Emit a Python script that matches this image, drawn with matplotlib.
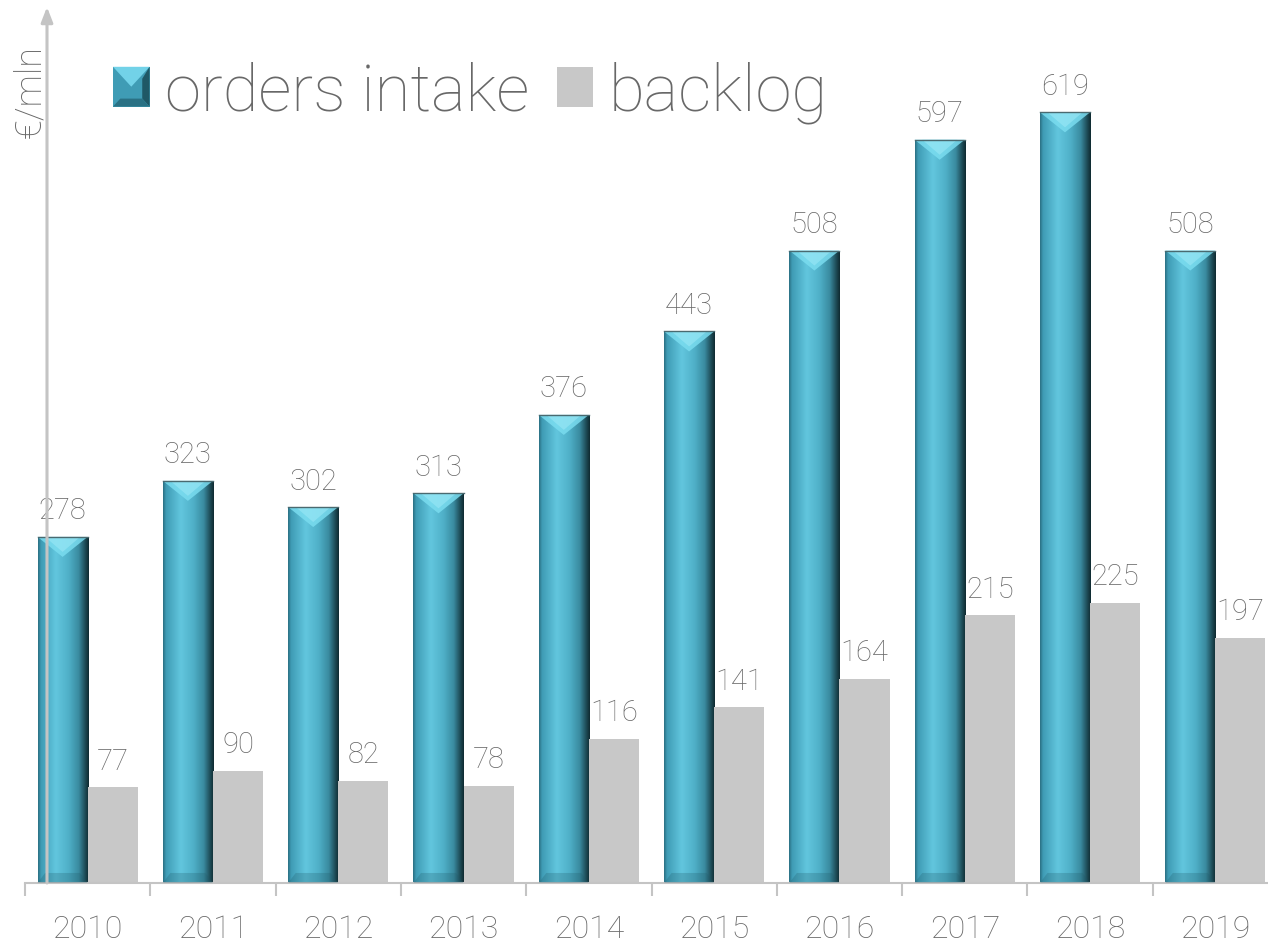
import matplotlib
matplotlib.use("Agg")
import matplotlib.pyplot as plt
import numpy as np
from matplotlib.colors import LinearSegmentedColormap
from matplotlib.patches import Rectangle, Polygon, Patch
from matplotlib.legend_handler import HandlerPatch

plt.rcParams['font.family'] = ['Roboto', 'DejaVu Sans']

years = ['2010', '2011', '2012', '2013', '2014', '2015', '2016', '2017', '2018', '2019']
orders_intake = [278, 323, 302, 313, 376, 443, 508, 597, 619, 508]
backlog = [77, 90, 82, 78, 116, 141, 164, 215, 225, 197]

GREY_TXT = '#686868'
GREY_BAR = '#c8c8c8'
AXIS_C = '#c4c4c4'

# horizontal shading of the bevelled bars
bar_cmap = LinearSegmentedColormap.from_list('bevel', [
    (0.00, '#2a6f82'), (0.06, '#3f9cb5'), (0.35, '#62c6de'),
    (0.60, '#4fb0c8'), (0.80, '#3a8ba0'), (0.93, '#1d4a55'), (1.00, '#0f2a30')])
grad = np.linspace(0, 1, 256).reshape(1, -1)

fig = plt.figure(figsize=(12.68, 9.45), dpi=100)
ax = fig.add_axes([25 / 1268, 1 - 884 / 945, 1253 / 1268, 884 / 945])
ymax = 710
ax.set_xlim(-0.5, len(years) - 0.5)
ax.set_ylim(0, ymax)

w = 0.4
x = np.arange(len(years))
px_per_x = 1253 / len(years)
px_per_y = 884 / ymax
bevel = 0.5 * w * px_per_x / px_per_y * 0.8
lbl_off = 10

for xi, v in zip(x, orders_intake):
    x0, x1 = xi - w, xi
    im = ax.imshow(grad, cmap=bar_cmap, aspect='auto', extent=(x0, x1, 0, v), zorder=2,
                   interpolation='bilinear')
    clip = Rectangle((x0, 0), w, v, transform=ax.transData)
    im.set_clip_path(clip)
    # top face
    ax.add_patch(Polygon([(x0, v), (x1, v), (xi - w / 2, v - bevel)], closed=True,
                         facecolor='#7adcef', edgecolor='none', alpha=0.85, zorder=3))
    ax.add_patch(Polygon([(x0 + w * 0.15, v), (x1 - w * 0.15, v), (xi - w / 2, v - bevel * 0.75)],
                         closed=True, facecolor='#9be8f6', edgecolor='none', alpha=0.6, zorder=3))
    # bottom edge
    ax.add_patch(Polygon([(x0, 0), (x1, 0), (x1 - w * 0.15, bevel * 0.5), (x0 + w * 0.15, bevel * 0.5)],
                         closed=True, facecolor='#1f5866', edgecolor='none', alpha=0.25, zorder=3))
    ax.plot([x0, x1], [v, v], color='#4a6a70', lw=1, zorder=4)
    ax.text(xi - w / 2, v + lbl_off, str(v), ha='center', va='bottom', fontsize=21,
            color=GREY_TXT, fontweight='light')

ax.bar(x + w / 2, backlog, width=w, color=GREY_BAR, zorder=2)
for xi, v in zip(x, backlog):
    ax.text(xi + w / 2, v + lbl_off, str(v), ha='center', va='bottom', fontsize=21,
            color=GREY_TXT, fontweight='light')

for s in ['top', 'right', 'left']:
    ax.spines[s].set_visible(False)
ax.spines['bottom'].set_color(AXIS_C)
ax.spines['bottom'].set_linewidth(1.5)
ax.set_yticks([])
ax.set_xticks(x)
ax.set_xticklabels(years, fontsize=23, color=GREY_TXT, fontweight='light')
ax.tick_params(axis='x', length=0, pad=22)
ax.set_xticks(np.arange(-0.5, len(years), 1), minor=True)
ax.tick_params(axis='x', which='minor', length=9, width=1.5, color=AXIS_C)

# y axis arrow
ax.annotate('', xy=(22 / 1253, 1 - 8 / 884), xytext=(22 / 1253, 0), xycoords='axes fraction',
            arrowprops=dict(arrowstyle='-|>,head_length=0.9,head_width=0.35', color=AXIS_C,
                            lw=2.2, shrinkA=0, shrinkB=0), zorder=5)
fig.text(30 / 1268, 1 - 92 / 945, '€/mln', rotation=90, ha='center', va='center',
         fontsize=26, color=GREY_TXT, fontweight='light')


class BevelHandler(HandlerPatch):
    def create_artists(self, legend, orig_handle, xdescent, ydescent, width, height, fontsize, trans):
        x0, y0 = -xdescent, -ydescent
        rect = Rectangle((x0, y0), width, height, facecolor='#3f9cb5', edgecolor='none', transform=trans)
        top = Polygon([(x0, y0 + height), (x0 + width, y0 + height), (x0 + width / 2, y0 + height / 2)],
                      facecolor='#72d2e8', edgecolor='none', transform=trans)
        right = Polygon([(x0 + width, y0), (x0 + width, y0 + height), (x0 + width * 0.8, y0 + height * 0.7),
                         (x0 + width * 0.8, y0 + height * 0.2)], facecolor='#1f5866', edgecolor='none',
                        transform=trans)
        bottom = Polygon([(x0, y0), (x0 + width, y0), (x0 + width * 0.8, y0 + height * 0.2),
                          (x0 + width * 0.2, y0 + height * 0.2)], facecolor='#2a7184', edgecolor='none',
                         transform=trans)
        return [rect, top, right, bottom]


h_orders = Patch(facecolor='#3f9cb5', label='orders intake')
h_back = Patch(facecolor=GREY_BAR, label='backlog')
leg = fig.legend(handles=[h_orders, h_back], loc='center left',
                 bbox_to_anchor=(113 / 1268, 1 - 93 / 945), ncol=2, frameon=False,
                 prop={'size': 47, 'weight': 'light'}, handlelength=0.56, handleheight=0.56,
                 handletextpad=0.24, columnspacing=0.42, borderpad=0, borderaxespad=0,
                 handler_map={h_orders: BevelHandler()})
for t in leg.get_texts():
    t.set_color(GREY_TXT)

fig.savefig('out.png', dpi=100)
